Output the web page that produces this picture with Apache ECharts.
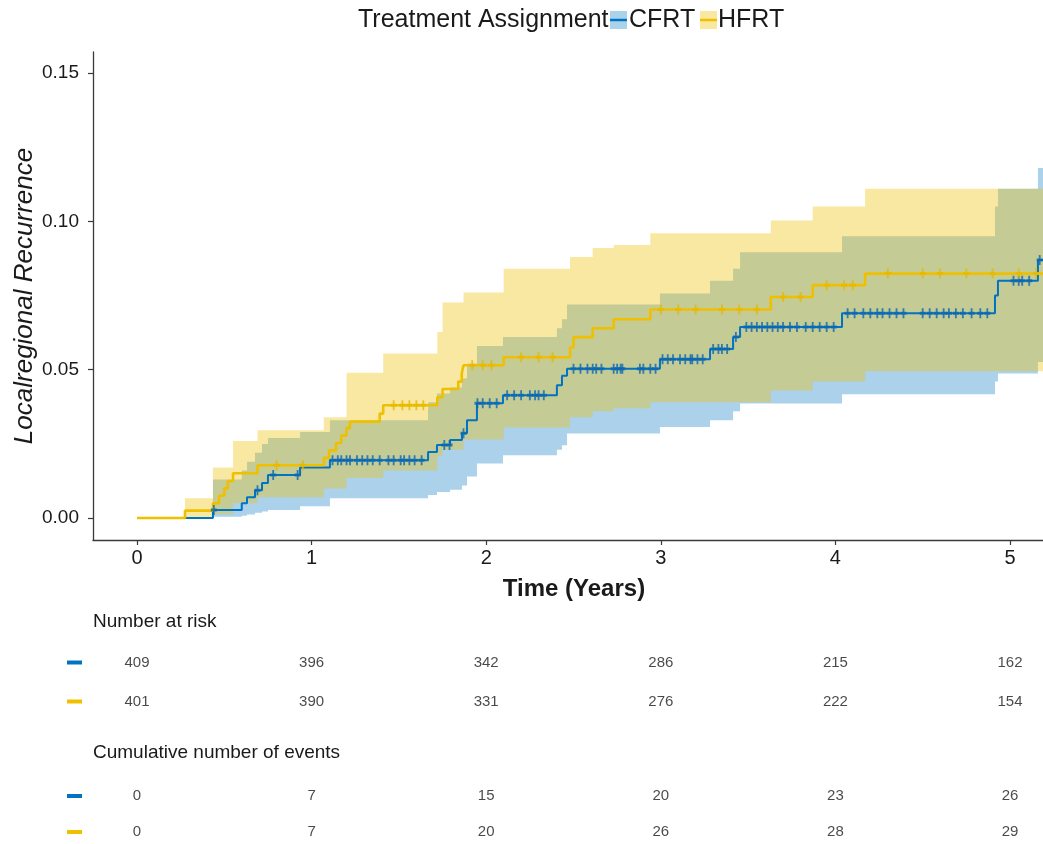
<!DOCTYPE html>
<html><head><meta charset="utf-8">
<script src="https://cdn.jsdelivr.net/npm/echarts@6/dist/echarts.min.js"></script>
<style>html,body{margin:0;padding:0;background:#fff}#c{width:1043px;height:844px}</style>
</head><body><div id="c"></div>
<script>
// ---------- data ----------
const groups = ['CFRT', 'HFRT'];
const xTicks = [0, 1, 2, 3, 4, 5];
const yTicks = [0, 0.05, 0.10, 0.15];

// cumulative incidence step curves (time in years, value)
const cfrtT = [0, 0.435, 0.60, 0.63, 0.676, 0.716, 0.75, 0.934, 1.105, 1.667, 1.718, 1.793, 1.861, 1.89, 1.947, 2.096, 2.405, 2.434, 2.463, 2.995, 3.282, 3.414, 3.454, 4.038, 4.914, 4.931, 5.16];
const cfrtV = [0, 0.0027, 0.005, 0.007, 0.0094, 0.0118, 0.0145, 0.017, 0.0195, 0.0223, 0.0246, 0.0263, 0.0286, 0.033, 0.0387, 0.0414, 0.0448, 0.048, 0.0503, 0.0535, 0.057, 0.061, 0.0644, 0.069, 0.075, 0.080, 0.087];
const hfrtT = [0, 0.275, 0.435, 0.47, 0.50, 0.52, 0.55, 0.69, 1.07, 1.10, 1.14, 1.17, 1.20, 1.22, 1.39, 1.41, 1.72, 1.75, 1.84, 1.86, 1.87, 2.10, 2.48, 2.50, 2.61, 2.73, 2.94, 3.63, 3.87, 4.17];
const hfrtV = [0, 0.0025, 0.005, 0.0075, 0.010, 0.0125, 0.0151, 0.0178, 0.0203, 0.0228, 0.0253, 0.0278, 0.0303, 0.0325, 0.0352, 0.038, 0.0407, 0.0435, 0.046, 0.0488, 0.0515, 0.0542, 0.0575, 0.061, 0.064, 0.067, 0.0703, 0.0745, 0.0785, 0.0824];

// censoring times
const cfrtCens = [0.44, 0.69, 0.78, 0.92, 1.12, 1.15, 1.17, 1.20, 1.22, 1.26, 1.29, 1.32, 1.35, 1.39, 1.44, 1.47, 1.51, 1.53, 1.56, 1.59, 1.63, 1.76, 1.79, 1.87, 1.95, 1.98, 2.02, 2.06, 2.12, 2.16, 2.20, 2.25, 2.28, 2.30, 2.33, 2.50, 2.54, 2.58, 2.61, 2.63, 2.66, 2.73, 2.75, 2.77, 2.78, 2.88, 2.90, 2.94, 2.97, 3.01, 3.04, 3.07, 3.11, 3.14, 3.17, 3.18, 3.21, 3.24, 3.30, 3.33, 3.35, 3.38, 3.43, 3.49, 3.52, 3.55, 3.58, 3.61, 3.64, 3.67, 3.70, 3.74, 3.78, 3.83, 3.87, 3.91, 3.95, 3.99, 4.07, 4.11, 4.16, 4.20, 4.24, 4.27, 4.31, 4.35, 4.39, 4.50, 4.54, 4.58, 4.62, 4.65, 4.69, 4.73, 4.78, 4.83, 4.87, 5.02, 5.05, 5.07, 5.11, 5.17];
const hfrtCens = [0.80, 0.95, 1.47, 1.52, 1.56, 1.60, 1.64, 1.92, 1.98, 2.03, 2.20, 2.30, 2.38, 3.00, 3.10, 3.20, 3.35, 3.45, 3.55, 3.70, 3.80, 3.95, 4.05, 4.10, 4.30, 4.50, 4.60, 4.75, 4.90, 5.05, 5.15];

// confidence bands (step start time, lower, upper)
const cfrtBandT  = [0.435, 0.60, 0.63, 0.676, 0.716, 0.75, 0.934, 1.105, 1.667, 1.718, 1.793, 1.861, 1.89, 1.947, 2.096, 2.405, 2.434, 2.463, 2.995, 3.282, 3.414, 3.454, 4.038, 4.914, 4.931, 5.16];
const cfrtBandLo = [0.0004, 0.0008, 0.0012, 0.0018, 0.0022, 0.0027, 0.004, 0.0067, 0.0078, 0.0088, 0.0095, 0.011, 0.014, 0.0184, 0.0212, 0.023, 0.0245, 0.0285, 0.0307, 0.033, 0.036, 0.0386, 0.0417, 0.046, 0.0487, 0.0526];
const cfrtBandHi = [0.013, 0.016, 0.019, 0.022, 0.025, 0.027, 0.029, 0.033, 0.039, 0.042, 0.044, 0.047, 0.052, 0.058, 0.061, 0.064, 0.067, 0.072, 0.0757, 0.080, 0.084, 0.0896, 0.095, 0.105, 0.111, 0.118];
const hfrtBandT  = [0.275, 0.435, 0.55, 0.69, 1.07, 1.20, 1.41, 1.72, 1.75, 1.87, 2.10, 2.48, 2.61, 2.73, 2.94, 3.63, 3.87, 4.17];
const hfrtBandLo = [0.0003, 0.0013, 0.005, 0.007, 0.010, 0.0135, 0.016, 0.021, 0.023, 0.0265, 0.0305, 0.034, 0.036, 0.037, 0.039, 0.043, 0.046, 0.0495];
const hfrtBandHi = [0.0067, 0.017, 0.026, 0.0296, 0.034, 0.049, 0.0555, 0.0627, 0.0727, 0.076, 0.084, 0.088, 0.091, 0.092, 0.096, 0.1003, 0.105, 0.111];

// tables
const cfrtRisk = [409, 396, 342, 286, 215, 162];
const hfrtRisk = [401, 390, 331, 276, 222, 154];
const cfrtEvents = [0, 7, 15, 20, 23, 26];
const hfrtEvents = [0, 7, 20, 26, 28, 29];

// ---------- styling ----------
const lineColors = ['#0073C2', '#EFC000'];
const censColors = ['#0a66b0', '#E6B800'];
const bandFill = ['rgba(0,115,194,0.33)', 'rgba(239,192,0,0.37)'];
const FONT = '"Liberation Sans", Arial, Helvetica, sans-serif';
const TXT = '#1a1a1a';
const X_MIN = -0.252, X_MAX = 5.189, Y_MIN = -0.0074, Y_MAX = 0.1571;

function stepAt(ts, vs, t) { let v = vs[0]; for (let i = 0; i < ts.length; i++) if (ts[i] <= t) v = vs[i]; return v; }

function bandSeries(idx, T, LO, HI) {
  return {
    type: 'custom', xAxisIndex: 0, yAxisIndex: 0, z: 1 + idx, silent: true, clip: true,
    data: [[T[0], LO[0]]],
    renderItem(params, api) {
      const up = [], dn = [];
      for (let i = 0; i < T.length; i++) {
        const t0 = T[i], t1 = i + 1 < T.length ? T[i + 1] : X_MAX;
        up.push(api.coord([t0, HI[i]]), api.coord([t1, HI[i]]));
        dn.push(api.coord([t0, LO[i]]), api.coord([t1, LO[i]]));
      }
      return { type: 'polygon', shape: { points: up.concat(dn.reverse()) }, style: { fill: bandFill[idx] } };
    }
  };
}
function lineSeries(idx, T, V, w) {
  const d = T.map((t, i) => [t, V[i]]);
  d.push([X_MAX, V[V.length - 1]]);
  return { type: 'line', step: 'end', data: d, showSymbol: false, symbol: 'none', z: 4 + idx, silent: true, clip: true,
    lineStyle: { color: lineColors[idx], width: w }, animation: false };
}
const PLUS = 'path://M3.5,0H6.5V3.5H10V6.5H6.5V10H3.5V6.5H0V3.5H3.5Z';
function censSeries(idx, C, T, V) {
  return { type: 'scatter', data: C.map(t => [t, stepAt(T, V, t)]), symbol: PLUS, symbolSize: [6, 10], z: 6 + idx, silent: true,
    itemStyle: { color: censColors[idx] } };
}
function tableSeries(gridIdx, rows) {
  const d = [];
  rows.forEach((vals, gi) => vals.forEach((v, k) => d.push([xTicks[k], groups[gi], v])));
  return { type: 'scatter', xAxisIndex: gridIdx, yAxisIndex: gridIdx, data: d, symbolSize: 1, silent: true,
    itemStyle: { color: 'transparent' },
    label: { show: true, position: 'inside', formatter: p => String(p.value[2]), fontSize: 15, color: TXT, fontFamily: FONT } };
}
const tableYAxis = (gi) => ({
  gridIndex: gi, type: 'category', data: groups, inverse: true,
  axisLine: { show: false }, axisTick: { show: false }, splitLine: { show: false },
  axisLabel: { margin: 11, formatter: (v, i) => '{g' + i + '|}',
    rich: { g0: { backgroundColor: lineColors[0], width: 15, height: 4 }, g1: { backgroundColor: lineColors[1], width: 15, height: 4 } } }
});
const tableXAxis = (gi) => ({ gridIndex: gi, type: 'value', min: X_MIN, max: X_MAX, show: false });

const chart = echarts.init(document.getElementById('c'), null, { renderer: 'canvas' });
chart.setOption({
  animation: false,
  backgroundColor: '#fff',
  textStyle: { fontFamily: FONT },
  grid: [
    { left: 93, right: 0, top: 52, bottom: 304, containLabel: false, outerBoundsMode: 'none' },
    { left: 93, right: 0, top: 643, height: 78, containLabel: false, outerBoundsMode: 'none' },
    { left: 93, right: 0, top: 778, height: 72, containLabel: false, outerBoundsMode: 'none' }
  ],
  xAxis: [
    { gridIndex: 0, type: 'value', min: X_MIN, max: X_MAX,
      name: 'Time (Years)', nameLocation: 'middle', nameGap: 37, nameMoveOverlap: false,
      nameTextStyle: { fontSize: 24, fontWeight: 'bold', color: TXT, fontFamily: FONT, padding: [0, 0, 0, 12] },
      axisLine: { show: true, onZero: false, lineStyle: { color: '#3a3a3a', width: 1.3 } },
      axisTick: { show: true, length: 5, customValues: xTicks, lineStyle: { color: '#3a3a3a', width: 1.2 } },
      axisLabel: { customValues: xTicks, fontSize: 20, color: TXT, margin: 8, fontFamily: FONT },
      splitLine: { show: false } },
    tableXAxis(1), tableXAxis(2)
  ],
  yAxis: [
    { gridIndex: 0, type: 'value', min: Y_MIN, max: Y_MAX,
      name: 'Localregional Recurrence', nameLocation: 'middle', nameGap: 55, nameRotate: 90, nameMoveOverlap: false,
      nameTextStyle: { fontSize: 26, fontStyle: 'italic', color: TXT, fontFamily: FONT },
      axisLine: { show: true, onZero: false, lineStyle: { color: '#3a3a3a', width: 1.3 } },
      axisTick: { show: true, length: 5, customValues: yTicks, lineStyle: { color: '#3a3a3a', width: 1.2 } },
      axisLabel: { customValues: yTicks, fontSize: 19, color: TXT, margin: 14, fontFamily: FONT, formatter: v => v.toFixed(2) },
      splitLine: { show: false } },
    tableYAxis(1), tableYAxis(2)
  ],
  series: [
    bandSeries(0, cfrtBandT, cfrtBandLo, cfrtBandHi),
    bandSeries(1, hfrtBandT, hfrtBandLo, hfrtBandHi),
    lineSeries(0, cfrtT, cfrtV, 2),
    lineSeries(1, hfrtT, hfrtV, 2.6),
    censSeries(0, cfrtCens, cfrtT, cfrtV),
    censSeries(1, hfrtCens, hfrtT, hfrtV),
    tableSeries(1, [cfrtRisk, hfrtRisk]),
    tableSeries(2, [cfrtEvents, hfrtEvents])
  ],
  graphic: [
    { type: 'text', x: 358, y: 20, style: { text: 'Treatment Assignment', font: '25px ' + FONT, fill: TXT, textVerticalAlign: 'middle', textAlign: 'left' } },
    { type: 'rect', shape: { x: 610, y: 11, width: 17, height: 18 }, style: { fill: bandFill[0] } },
    { type: 'line', shape: { x1: 610, y1: 20, x2: 627, y2: 20 }, style: { stroke: lineColors[0], lineWidth: 2.5 } },
    { type: 'text', x: 629, y: 20, style: { text: groups[0], font: '25px ' + FONT, fill: TXT, textVerticalAlign: 'middle', textAlign: 'left' } },
    { type: 'rect', shape: { x: 700, y: 11, width: 17, height: 18 }, style: { fill: bandFill[1] } },
    { type: 'line', shape: { x1: 700, y1: 20, x2: 717, y2: 20 }, style: { stroke: lineColors[1], lineWidth: 2.5 } },
    { type: 'text', x: 718, y: 20, style: { text: groups[1], font: '25px ' + FONT, fill: TXT, textVerticalAlign: 'middle', textAlign: 'left' } },
    { type: 'text', x: 93, y: 622, style: { text: 'Number at risk', font: '19px ' + FONT, fill: TXT, textVerticalAlign: 'middle', textAlign: 'left' } },
    { type: 'text', x: 93, y: 753, style: { text: 'Cumulative number of events', font: '19px ' + FONT, fill: TXT, textVerticalAlign: 'middle', textAlign: 'left' } }
  ]
});
</script>
</body></html>
